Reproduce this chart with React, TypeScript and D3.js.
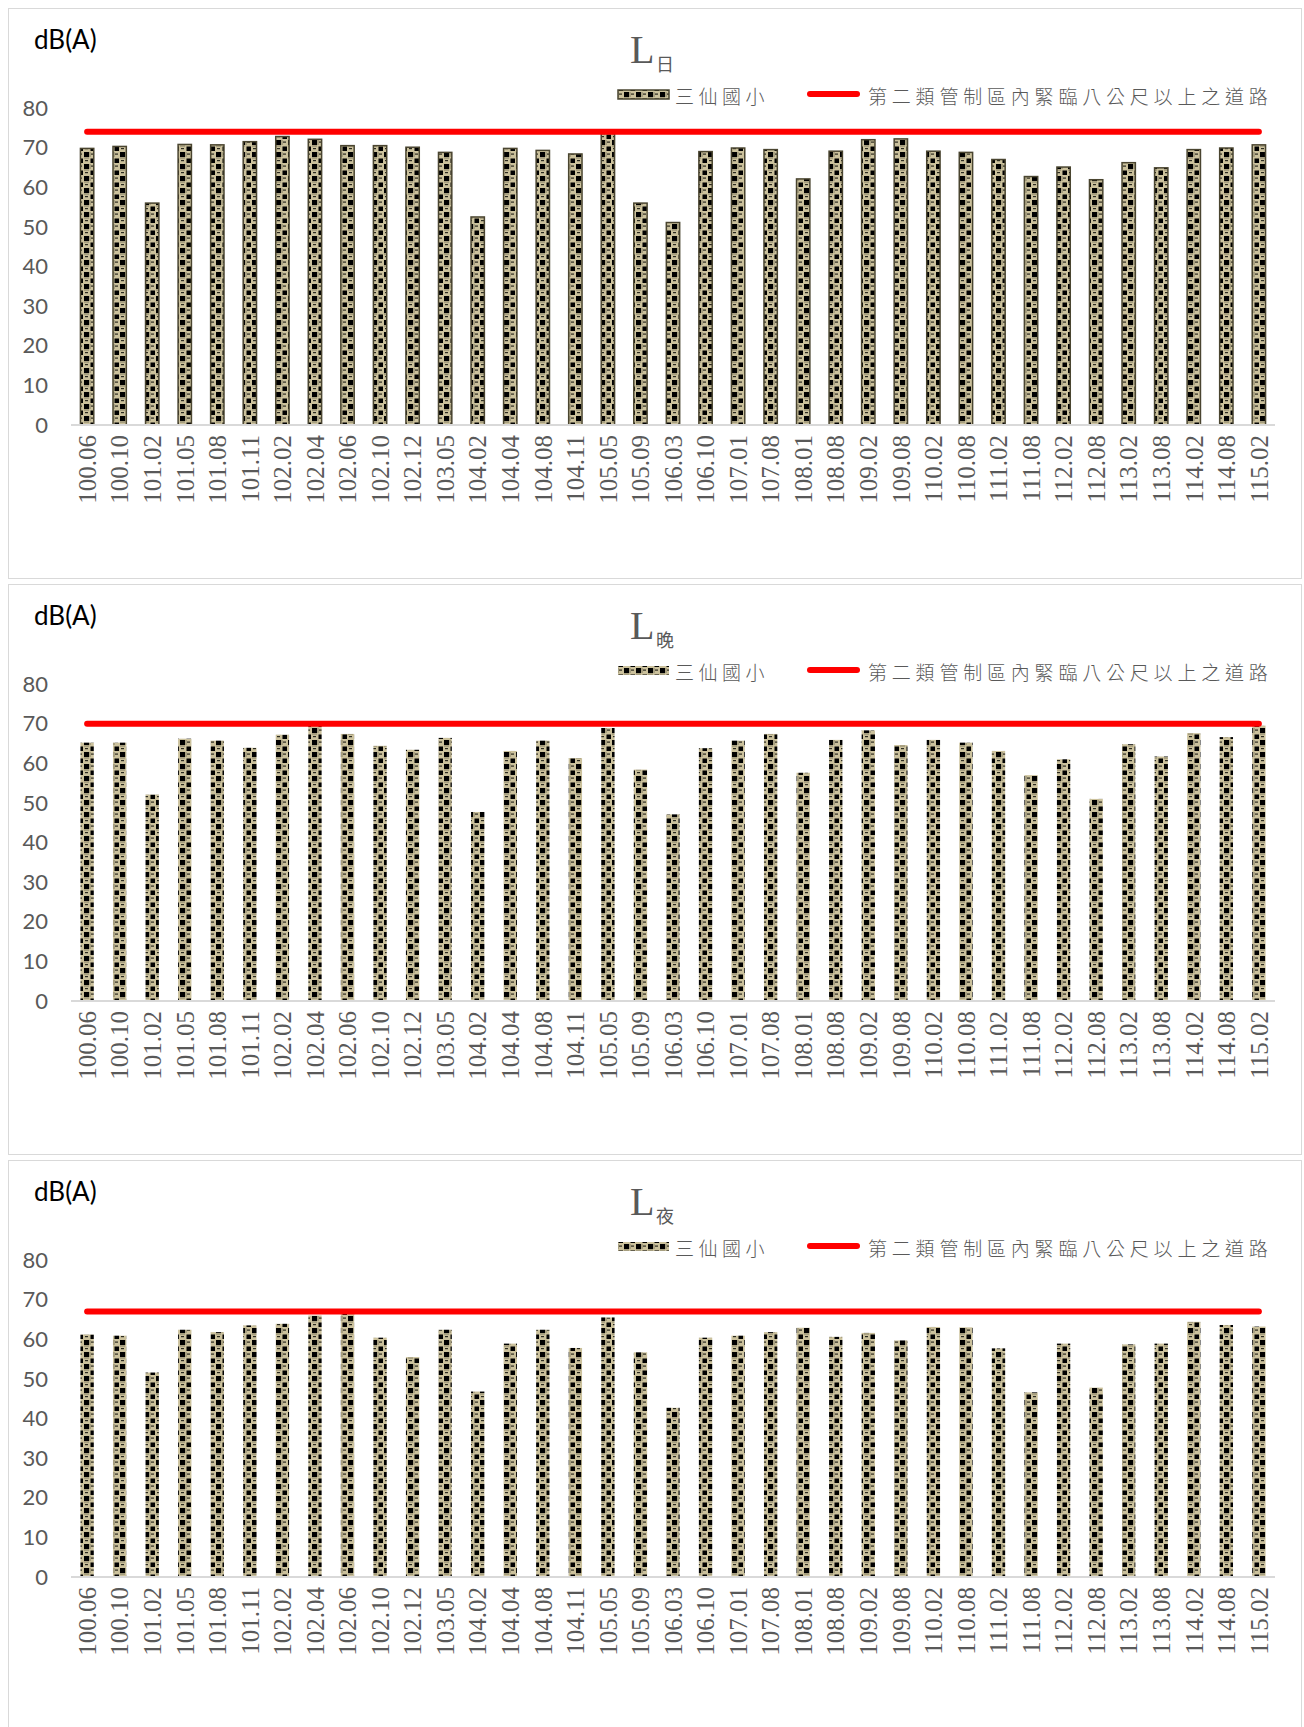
import React from "react";
import * as d3 from "d3";

const W = 1304;
const H = 1727;

const periods = [
  "100.06", "100.10", "101.02", "101.05", "101.08", "101.11", "102.02", "102.04",
  "102.06", "102.10", "102.12", "103.05", "104.02", "104.04", "104.08", "104.11",
  "105.05", "105.09", "106.03", "106.10", "107.01", "107.08", "108.01", "108.08",
  "109.02", "109.08", "110.02", "110.08", "111.02", "111.08", "112.02", "112.08",
  "113.02", "113.08", "114.02", "114.08", "115.02",
];

const dayValues = [
  69.8, 70.3, 56.0, 70.8, 70.7, 71.5, 72.8, 72.1, 70.5, 70.5, 70.1, 68.8, 52.5,
  69.8, 69.3, 68.4, 73.6, 56.0, 51.1, 69.0, 69.9, 69.5, 62.1, 69.1, 72.0, 72.2,
  69.1, 68.8, 67.0, 62.7, 65.1, 61.9, 66.2, 64.9, 69.5, 69.9, 70.7,
];

const eveningValues = [
  65.2, 65.2, 52.1, 66.2, 65.7, 63.9, 67.2, 69.6, 67.4, 64.4, 63.4, 66.4, 47.7,
  63.1, 65.7, 61.3, 68.9, 58.4, 47.1, 63.8, 65.7, 67.4, 57.6, 65.9, 68.3, 64.6,
  65.9, 65.2, 63.1, 57.0, 61.0, 51.0, 64.8, 61.7, 67.6, 66.6, 69.5,
];

const nightValues = [
  61.2, 60.9, 51.6, 62.4, 61.8, 63.5, 63.9, 66.0, 66.4, 60.4, 55.5, 62.4, 46.8,
  58.9, 62.4, 57.8, 65.5, 56.7, 42.7, 60.4, 60.9, 61.8, 62.9, 60.6, 61.6, 59.7,
  63.1, 63.0, 57.7, 46.6, 58.9, 47.8, 58.7, 58.9, 64.4, 63.6, 63.2,
];

const limits = [74, 70, 67];
const subscripts = ["日", "晚", "夜"];
const seriesName = "三仙國小";
const limitName = "第二類管制區內緊臨八公尺以上之道路";
const yTicks = [0, 10, 20, 30, 40, 50, 60, 70, 80];

const grey = "#595959";
const cjk = "'Noto Sans CJK TC', 'Noto Sans CJK SC', sans-serif";

const x = d3.scaleBand<string>().domain(periods).range([71, 1275]).paddingInner(0.59).paddingOuter(0.29);
const y = d3.scaleLinear().domain([0, 80]).range([417, 100]);

function Panel({ top, values, limit, sub, outlined }: any) {
  const bw = x.bandwidth();
  const c0 = (x(periods[0]) as number) + bw / 2;
  const c1 = (x(periods[periods.length - 1]) as number) + bw / 2;
  return (
    <g transform={`translate(0,${top})`}>
      <rect x={8.5} y={0.5} width={1293} height={570} fill="#fff" stroke="#d9d9d9" />
      <text x={34} y={41} fontFamily="Lato, sans-serif" fontSize={26} fill="#000">dB(A)</text>
      <text x={630} y={55} fontFamily="'Liberation Serif', serif" fontSize={40} fill={grey}>L</text>
      <text x={656} y={63} fontFamily={cjk} fontSize={18} fill={grey}>{sub}</text>

      <rect x={618} y={82} width={51} height={9} fill="url(#chk)"
        stroke={outlined ? "#4a4530" : "none"} strokeWidth={outlined ? 1.5 : 0} />
      <text x={675} y={87} dominantBaseline="central" fontFamily={cjk} fontSize={19}
        fontWeight={300} letterSpacing={4.5} fill={grey}>{seriesName}</text>
      <line x1={810} x2={857} y1={86} y2={86} stroke="#ff0000" strokeWidth={6} strokeLinecap="round" />
      <text x={868} y={87} dominantBaseline="central" fontFamily={cjk} fontSize={19}
        fontWeight={300} letterSpacing={4.8} fill={grey}>{limitName}</text>

      {yTicks.map((t) => (
        <text key={t} x={48} y={y(t)} dy="0.35em" textAnchor="end" fontFamily="Lato, sans-serif"
          fontSize={22} fill={grey}>{t}</text>
      ))}

      {values.map((v: number, i: number) => (
        <rect key={periods[i]} x={x(periods[i])} y={y(v)} width={bw} height={y(0) - y(v)}
          fill="url(#chk)" stroke={outlined ? "#4a4530" : "none"} strokeWidth={outlined ? 1.5 : 0} />
      ))}

      <line x1={71} x2={1275} y1={y(0)} y2={y(0)} stroke="#d9d9d9" strokeWidth={2} />

      {periods.map((p) => (
        <text key={p} transform={`translate(${(x(p) as number) + bw / 2},427) rotate(-90)`}
          textAnchor="end" dy="0.35em" fontFamily="'Liberation Serif', serif" fontSize={25}
          fill={grey}>{p}</text>
      ))}

      <line x1={c0} x2={c1} y1={y(limit)} y2={y(limit)} stroke="#ff0000" strokeWidth={6} strokeLinecap="round" />
    </g>
  );
}

export default function App() {
  const all = [dayValues, eveningValues, nightValues];
  return (
    <svg width={W} height={H} style={{ position: "absolute", left: 0, top: 0, background: "#fff" }}>
      <defs>
        <pattern id="chk" patternUnits="userSpaceOnUse" width={12} height={12}>
          <rect width={12} height={12} fill="#cbc19c" />
          <rect x={0} y={0} width={5} height={5} fill="#000" />
          <rect x={6.5} y={6.5} width={4.5} height={4.5} fill="#000" />
          <rect x={7} y={1.5} width={3} height={1.2} fill="#2b2a20" />
          <rect x={1} y={8} width={3} height={1.2} fill="#2b2a20" />
          <rect x={5.5} y={0} width={1} height={5} fill="#3a382a" opacity={0.5} />
          <rect x={0} y={5.5} width={5} height={1} fill="#3a382a" opacity={0.5} />
        </pattern>
      </defs>
      <rect width={W} height={H} fill="#fff" />
      {all.map((vals, k) => (
        <Panel key={k} top={8 + k * 576} values={vals} limit={limits[k]} sub={subscripts[k]} outlined={k === 0} />
      ))}
    </svg>
  );
}
